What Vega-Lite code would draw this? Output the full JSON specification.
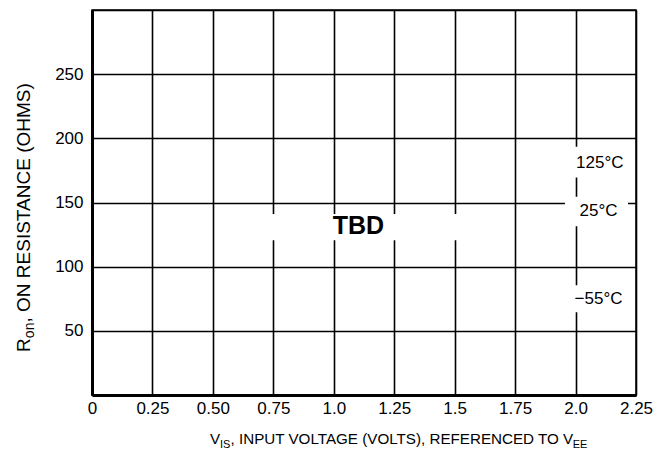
{
  "$schema": "https://vega.github.io/schema/vega-lite/v6.json",
  "width": 544,
  "height": 385,
  "autosize": {"type": "none"},
  "padding": {"left": 92, "top": 10, "right": 18, "bottom": 65},
  "background": "white",
  "config": {
    "font": "Liberation Sans",
    "view": {"stroke": "black", "strokeWidth": 1.5},
    "axis": {
      "domainColor": "black",
      "domainWidth": 3,
      "gridColor": "black",
      "gridWidth": 1.6,
      "gridOpacity": 1,
      "ticks": false,
      "labelColor": "black",
      "labelFont": "Liberation Sans",
      "labelFontSize": 17,
      "title": null
    }
  },
  "datasets": {
    "masks": [
      {"x": 0.73, "x2": 1.52, "y": 120.5, "y2": 141},
      {"x": 1.98, "x2": 2.22, "y": 169.5, "y2": 193.5},
      {"x": 1.956, "x2": 2.217, "y": 131.5, "y2": 154.5},
      {"x": 1.97, "x2": 2.225, "y": 64.5, "y2": 85.5}
    ],
    "notes": [
      {"x": 1.102, "y": 132, "label": "TBD", "kind": "bold"},
      {"x": 2.10, "y": 181, "label": "125°C", "kind": "temp"},
      {"x": 2.095, "y": 143.4, "label": "25°C", "kind": "temp"},
      {"x": 2.095, "y": 75, "label": "−55°C", "kind": "temp"}
    ],
    "xtitle": [
      {"x": 0.488, "y": -38.3, "label": "V", "kind": "main"},
      {"x": 0.529, "y": -38.3, "label": "IS", "kind": "sub"},
      {"x": 0.573, "y": -38.3, "label": ", INPUT VOLTAGE (VOLTS), REFERENCED TO V", "kind": "main"},
      {"x": 1.988, "y": -38.3, "label": "EE", "kind": "sub"}
    ],
    "ytitle": [
      {"x": -0.256, "y": 33.6, "label": "R", "kind": "main"},
      {"x": -0.256, "y": 44.3, "label": "on", "kind": "sub"},
      {"x": -0.256, "y": 56.5, "label": ", ON RESISTANCE (OHMS)", "kind": "main"}
    ]
  },
  "layer": [
    {
      "data": {"name": "masks"},
      "mark": {"type": "rect", "color": "white"},
      "encoding": {
        "x": {
          "field": "x", "type": "quantitative",
          "scale": {"domain": [0, 2.25], "nice": false, "zero": false},
          "axis": {
            "values": [0, 0.25, 0.5, 0.75, 1, 1.25, 1.5, 1.75, 2, 2.25],
            "labelExpr": "datum.value == 0 ? '0' : datum.value == 1 ? '1.0' : datum.value == 1.5 ? '1.5' : datum.value == 2 ? '2.0' : format(datum.value, '.2f')",
            "labelPadding": 5,
            "labelFlush": false
          }
        },
        "x2": {"field": "x2"},
        "y": {
          "field": "y", "type": "quantitative",
          "scale": {"domain": [0, 300], "nice": false, "zero": false},
          "axis": {
            "values": [0, 50, 100, 150, 200, 250, 300],
            "labelExpr": "datum.value == 0 || datum.value == 300 ? '' : datum.label",
            "labelPadding": 9
          }
        },
        "y2": {"field": "y2"}
      }
    },
    {
      "data": {"name": "notes"},
      "transform": [{"filter": "datum.kind == 'bold'"}],
      "mark": {"type": "text", "fontSize": 25, "fontWeight": "bold", "color": "black", "align": "center", "baseline": "middle"},
      "encoding": {
        "x": {"field": "x", "type": "quantitative"},
        "y": {"field": "y", "type": "quantitative"},
        "text": {"field": "label"}
      }
    },
    {
      "data": {"name": "notes"},
      "transform": [{"filter": "datum.kind == 'temp'"}],
      "mark": {"type": "text", "fontSize": 17, "color": "black", "align": "center", "baseline": "middle"},
      "encoding": {
        "x": {"field": "x", "type": "quantitative"},
        "y": {"field": "y", "type": "quantitative"},
        "text": {"field": "label"}
      }
    },
    {
      "data": {"name": "xtitle"},
      "transform": [{"filter": "datum.kind == 'main'"}],
      "mark": {"type": "text", "fontSize": 15.2, "color": "black", "align": "left", "baseline": "alphabetic"},
      "encoding": {
        "x": {"field": "x", "type": "quantitative"},
        "y": {"field": "y", "type": "quantitative"},
        "text": {"field": "label"}
      }
    },
    {
      "data": {"name": "xtitle"},
      "transform": [{"filter": "datum.kind == 'sub'"}],
      "mark": {"type": "text", "fontSize": 11, "color": "black", "align": "left", "baseline": "alphabetic", "dy": 4},
      "encoding": {
        "x": {"field": "x", "type": "quantitative"},
        "y": {"field": "y", "type": "quantitative"},
        "text": {"field": "label"}
      }
    },
    {
      "data": {"name": "ytitle"},
      "transform": [{"filter": "datum.kind == 'main'"}],
      "mark": {"type": "text", "fontSize": 19, "color": "black", "align": "left", "baseline": "alphabetic", "angle": 270},
      "encoding": {
        "x": {"field": "x", "type": "quantitative"},
        "y": {"field": "y", "type": "quantitative"},
        "text": {"field": "label"}
      }
    },
    {
      "data": {"name": "ytitle"},
      "transform": [{"filter": "datum.kind == 'sub'"}],
      "mark": {"type": "text", "fontSize": 14, "color": "black", "align": "left", "baseline": "alphabetic", "angle": 270, "dy": 4},
      "encoding": {
        "x": {"field": "x", "type": "quantitative"},
        "y": {"field": "y", "type": "quantitative"},
        "text": {"field": "label"}
      }
    }
  ]
}
